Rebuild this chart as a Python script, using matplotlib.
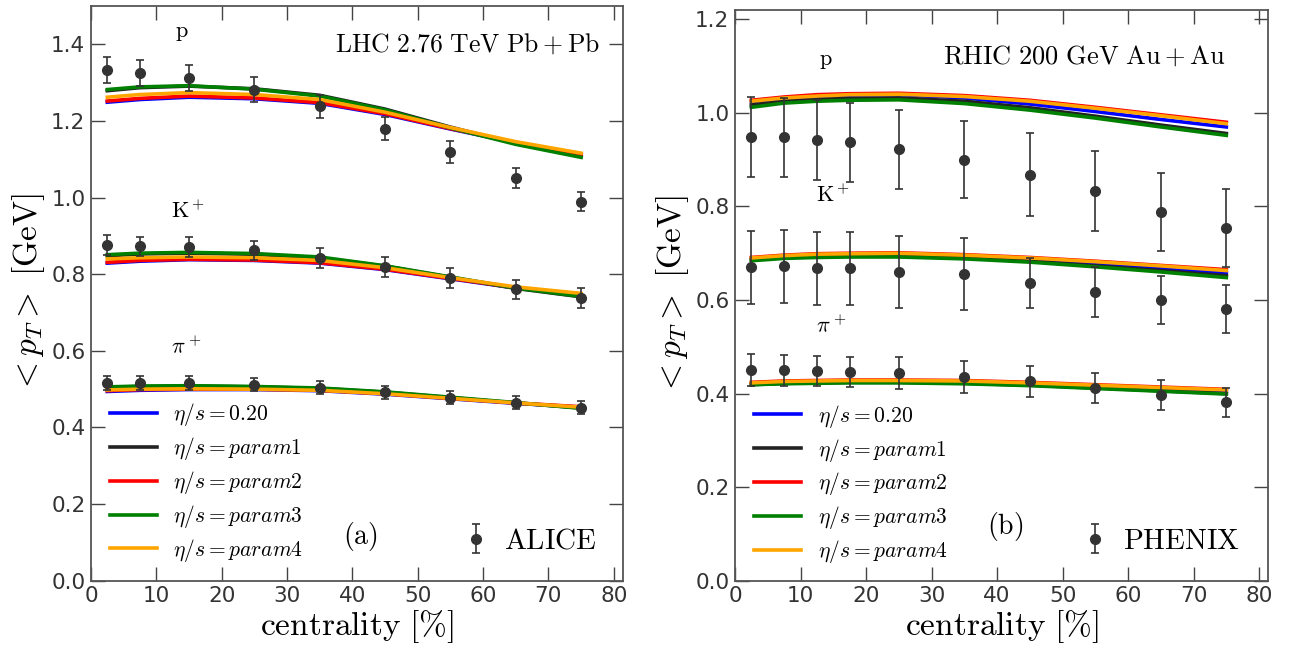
import matplotlib
matplotlib.use('Agg')
import matplotlib.pyplot as plt
from matplotlib.legend_handler import HandlerErrorbar

plt.rcParams['mathtext.fontset'] = 'cm'
plt.rcParams['font.family'] = 'DejaVu Sans'

# centrality bins
x_lhc = [2.5, 7.5, 15, 25, 35, 45, 55, 65, 75]
x_rhic = [2.5, 7.5, 12.5, 17.5, 25, 35, 45, 55, 65, 75]

# ALICE data
alice_p = [1.334, 1.325, 1.312, 1.282, 1.238, 1.180, 1.120, 1.051, 0.989]
alice_p_err = [0.034, 0.033, 0.035, 0.033, 0.031, 0.030, 0.029, 0.027, 0.025]
alice_k = [0.877, 0.873, 0.872, 0.862, 0.843, 0.820, 0.790, 0.761, 0.739]
alice_k_err = [0.026, 0.025, 0.026, 0.026, 0.026, 0.026, 0.025, 0.025, 0.026]
alice_pi = [0.517, 0.517, 0.517, 0.512, 0.504, 0.492, 0.478, 0.465, 0.452]
alice_pi_err = [0.018, 0.018, 0.018, 0.017, 0.017, 0.017, 0.016, 0.016, 0.016]

# PHENIX data
phenix_p = [0.949, 0.948, 0.942, 0.937, 0.922, 0.900, 0.868, 0.833, 0.788, 0.754]
phenix_p_err = [0.085, 0.084, 0.085, 0.085, 0.085, 0.082, 0.088, 0.086, 0.084, 0.083]
phenix_k = [0.670, 0.672, 0.668, 0.668, 0.660, 0.655, 0.636, 0.617, 0.600, 0.581]
phenix_k_err = [0.078, 0.078, 0.078, 0.078, 0.077, 0.077, 0.054, 0.053, 0.052, 0.052]
phenix_pi = [0.450, 0.450, 0.448, 0.446, 0.444, 0.435, 0.426, 0.412, 0.397, 0.381]
phenix_pi_err = [0.034, 0.033, 0.032, 0.032, 0.034, 0.034, 0.034, 0.033, 0.033, 0.032]

# hydro results, LHC (blue, black, red, green, orange)
lhc_p = [
    [1.249, 1.256, 1.262, 1.258, 1.246, 1.217, 1.179, 1.143, 1.112],
    [1.279, 1.287, 1.291, 1.284, 1.267, 1.231, 1.184, 1.141, 1.107],
    [1.252, 1.259, 1.265, 1.260, 1.248, 1.219, 1.180, 1.144, 1.113],
    [1.282, 1.289, 1.292, 1.283, 1.265, 1.229, 1.182, 1.139, 1.105],
    [1.262, 1.269, 1.274, 1.269, 1.256, 1.223, 1.183, 1.146, 1.116],
]
lhc_k = [
    [0.829, 0.834, 0.838, 0.836, 0.829, 0.812, 0.788, 0.764, 0.747],
    [0.848, 0.853, 0.855, 0.852, 0.843, 0.821, 0.792, 0.763, 0.741],
    [0.831, 0.836, 0.839, 0.837, 0.830, 0.813, 0.789, 0.765, 0.748],
    [0.851, 0.855, 0.857, 0.854, 0.845, 0.822, 0.793, 0.764, 0.742],
    [0.840, 0.843, 0.845, 0.843, 0.836, 0.817, 0.791, 0.767, 0.750],
]
lhc_pi = [
    [0.494, 0.497, 0.499, 0.499, 0.496, 0.487, 0.475, 0.463, 0.453],
    [0.505, 0.507, 0.508, 0.506, 0.502, 0.492, 0.478, 0.464, 0.451],
    [0.496, 0.499, 0.500, 0.500, 0.497, 0.488, 0.476, 0.464, 0.454],
    [0.506, 0.508, 0.509, 0.507, 0.503, 0.493, 0.479, 0.465, 0.450],
    [0.498, 0.500, 0.501, 0.500, 0.497, 0.488, 0.476, 0.464, 0.453],
]

# hydro results, RHIC
rhic_p = [
    [1.024, 1.031, 1.035, 1.038, 1.039, 1.032, 1.019, 1.003, 0.986, 0.970],
    [1.017, 1.025, 1.029, 1.031, 1.032, 1.025, 1.011, 0.993, 0.974, 0.956],
    [1.027, 1.034, 1.039, 1.041, 1.042, 1.037, 1.027, 1.012, 0.996, 0.980],
    [1.012, 1.021, 1.025, 1.027, 1.028, 1.020, 1.006, 0.989, 0.970, 0.952],
    [1.025, 1.032, 1.036, 1.039, 1.040, 1.035, 1.025, 1.010, 0.994, 0.977],
]
rhic_k = [
    [0.689, 0.694, 0.697, 0.698, 0.698, 0.694, 0.687, 0.678, 0.668, 0.658],
    [0.686, 0.691, 0.693, 0.694, 0.694, 0.690, 0.683, 0.673, 0.663, 0.652],
    [0.691, 0.696, 0.699, 0.700, 0.701, 0.697, 0.691, 0.683, 0.674, 0.665],
    [0.684, 0.689, 0.691, 0.692, 0.692, 0.688, 0.681, 0.671, 0.660, 0.648],
    [0.690, 0.695, 0.698, 0.699, 0.700, 0.696, 0.690, 0.682, 0.673, 0.663],
]
rhic_pi = [
    [0.422, 0.425, 0.426, 0.427, 0.427, 0.426, 0.422, 0.417, 0.412, 0.406],
    [0.419, 0.422, 0.423, 0.424, 0.424, 0.422, 0.418, 0.412, 0.406, 0.400],
    [0.424, 0.427, 0.428, 0.429, 0.429, 0.428, 0.424, 0.419, 0.414, 0.409],
    [0.419, 0.421, 0.422, 0.423, 0.423, 0.421, 0.417, 0.411, 0.405, 0.399],
    [0.423, 0.426, 0.427, 0.428, 0.428, 0.427, 0.423, 0.418, 0.413, 0.408],
]

colors = ['blue', '#222222', 'red', 'green', 'orange']
labels = [r'$\eta/s=0.20$', r'$\eta/s=param1$', r'$\eta/s=param2$',
          r'$\eta/s=param3$', r'$\eta/s=param4$']

fig = plt.figure(figsize=(12.94, 6.49), dpi=100)
ax1 = fig.add_axes([0.0703, 0.1052, 0.4111, 0.8855])
ax2 = fig.add_axes([0.5680, 0.1052, 0.4121, 0.8794])


def draw(ax, x, theory, data, errs, expname, ylim, yticks, title, tx, ty,
         tsize, species_pos, tag, exp_anchor):
    for s in range(3):
        for i in range(5):
            ax.plot(x, theory[s][i], color=colors[i], lw=2.6,
                    label=labels[i] if s == 0 else None, zorder=2)
    eb = None
    for s in range(3):
        eb = ax.errorbar(x, data[s], yerr=errs[s], fmt='o', color='#333333',
                         ms=7, elinewidth=1.2, capsize=3, capthick=1.2,
                         zorder=3)
    leg = ax.legend(loc='upper left', bbox_to_anchor=(0.0357, 0.312),
                    frameon=False, fontsize=15.5, handlelength=2.2,
                    handletextpad=0.75, labelspacing=0.32, borderpad=0,
                    borderaxespad=0)
    ax.add_artist(leg)
    ax.legend([eb], [r'$\mathrm{%s}$' % expname], loc='lower right',
              bbox_to_anchor=(exp_anchor, 0.045), frameon=False, fontsize=21,
              handlelength=1.0, handletextpad=0.45, borderpad=0,
              borderaxespad=0, handler_map={type(eb): HandlerErrorbar()})

    ax.text(tx, ty, title, fontsize=tsize, ha='left', va='center')
    ax.text(41.3, 0.115, r'$\mathrm{(%s)}$' % tag, fontsize=20,
            ha='center', va='center')
    names = [r'$\mathrm{p}$', r'$\mathrm{K}^+$', r'$\pi^+$']
    for name, (px, py) in zip(names, species_pos):
        ax.text(px, py, name, fontsize=16, ha='left', va='center')

    ax.set_xlim(0, 81.4)
    ax.set_ylim(*ylim)
    ax.set_xticks(range(0, 81, 10))
    ax.set_yticks(yticks)
    ax.set_yticklabels(['%.1f' % t for t in yticks])
    ax.tick_params(direction='in', length=10, width=1.0, color='#444444',
                   top=True, right=True, labelsize=15.5, labelcolor='#333333',
                   pad=4)
    for sp in ax.spines.values():
        sp.set_color('#555555')
        sp.set_linewidth(1.3)
    ax.set_xlabel(r'$\mathrm{centrality\ [\%]}$', fontsize=24, labelpad=1)
    ax.set_ylabel(r'$<p_T>\ [\mathrm{GeV}]$', fontsize=24, labelpad=3)


draw(ax1, x_lhc, [lhc_p, lhc_k, lhc_pi],
     [alice_p, alice_k, alice_pi], [alice_p_err, alice_k_err, alice_pi_err],
     'ALICE', (0, 1.5), [0.0, 0.2, 0.4, 0.6, 0.8, 1.0, 1.2, 1.4],
     r'$\mathrm{LHC\ 2.76\ TeV\ Pb+Pb}$', 37.4, 1.398, 18.5,
     [(12.8, 1.43), (12.3, 0.965), (12.3, 0.613)], 'a', 0.951)

draw(ax2, x_rhic, [rhic_p, rhic_k, rhic_pi],
     [phenix_p, phenix_k, phenix_pi],
     [phenix_p_err, phenix_k_err, phenix_pi_err],
     'PHENIX', (0, 1.22), [0.0, 0.2, 0.4, 0.6, 0.8, 1.0, 1.2],
     r'$\mathrm{RHIC\ 200\ GeV\ Au+Au}$', 31.8, 1.12, 19,
     [(12.8, 1.11), (12.3, 0.824), (12.3, 0.547)], 'b', 0.947)

fig.savefig('out.png', dpi=100)
